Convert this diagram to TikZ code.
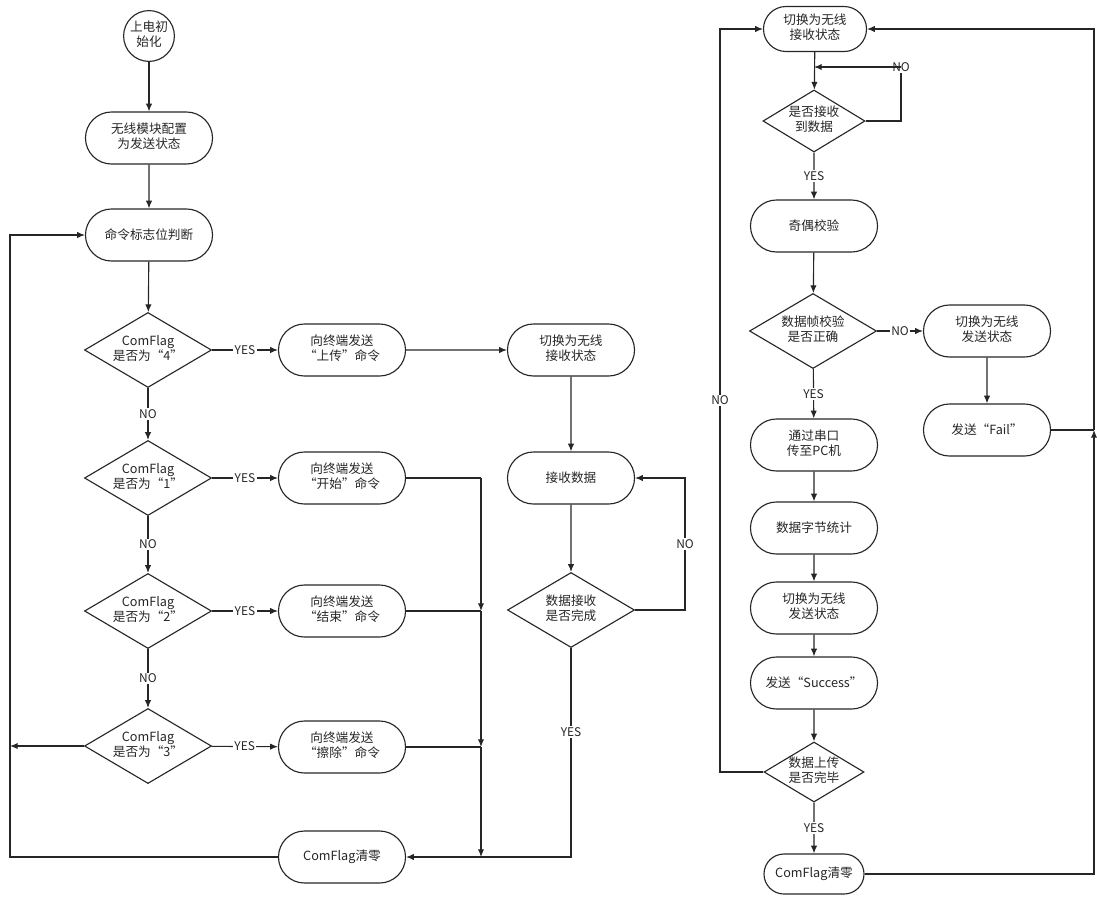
\documentclass[tikz,border=0pt]{standalone}
\usepackage{fontspec}
\setmainfont{Noto Sans CJK SC}
\usetikzlibrary{shapes.geometric,shapes.misc,arrows.meta}
\newcommand{\twol}[1]{\makebox[0pt]{\begin{tabular}{@{}c@{}}#1\end{tabular}}}

\begin{document}
\begin{tikzpicture}[x=0.025cm, y=-0.025cm, line width=0.8pt, color=black!85, >={Latex[length=5.5pt,width=4.5pt]},
	every node/.style={font=\fontsize{9}{11}\selectfont},
	proc/.style={rounded rectangle, draw, minimum width=3.175cm, minimum height=1.3cm, inner sep=0pt},
	dec/.style={diamond, draw, minimum width=3.175cm, minimum height=1.875cm, inner sep=0pt},
	lab/.style={fill=white, inner sep=1pt, font=\fontsize{8.5}{10}\selectfont}]
	\useasboundingbox (0,0) rectangle (1097,896);
	\node[circle, draw, minimum size=1.27cm, inner sep=0pt] (start) at (149,36) {\twol{上电初\\始化}};
	\node[proc] (cfg)   at (149,138) {\twol{无线模块配置\\为发送状态}};
	\node[proc] (judge) at (149,235) {命令标志位判断};
	\node[dec]  (d1)    at (148,350) {\twol{ComFlag\\是否为“4”}};
	\node[dec]  (d2)    at (148,478) {\twol{ComFlag\\是否为“1”}};
	\node[dec]  (d3)    at (148,611) {\twol{ComFlag\\是否为“2”}};
	\node[dec]  (d4)    at (148,746) {\twol{ComFlag\\是否为“3”}};
	\node[proc] (up)    at (342,350) {\twol{向终端发送\\“上传”命令}};
	\node[proc] (go)    at (342,478) {\twol{向终端发送\\“开始”命令}};
	\node[proc] (stop)  at (342,611) {\twol{向终端发送\\“结束”命令}};
	\node[proc] (erase) at (342,747) {\twol{向终端发送\\“擦除”命令}};
	\node[proc] (clrA)  at (342,857) {ComFlag清零};
	\node[proc] (rxA)   at (571,350) {\twol{切换为无线\\接收状态}};
	\node[proc] (recv)  at (571,478) {接收数据};
	\node[dec]  (done)  at (571,610) {\twol{数据接收\\是否完成}};

	\node[proc, minimum width=2.575cm, minimum height=1.125cm] (rxB) at (815,29) {\twol{切换为无线\\接收状态}};
	\node[dec, minimum width=2.55cm, minimum height=1.55cm] (got) at (814,121) {\twol{是否接收\\到数据}};
	\node[proc] (par)  at (814,226) {奇偶校验};
	\node[dec]  (chk)  at (813,331) {\twol{数据帧校验\\是否正确}};
	\node[proc] (txA)  at (987,331) {\twol{切换为无线\\发送状态}};
	\node[proc] (fail) at (987,430) {发送“Fail”};
	\node[proc] (pc)   at (814,445) {\twol{通过串口\\传至PC机}};
	\node[proc] (cnt)  at (814,528) {数据字节统计};
	\node[proc] (txB)  at (814,608) {\twol{切换为无线\\发送状态}};
	\node[proc] (succ) at (814,683) {发送“Success”};
	\node[dec, minimum width=2.5cm, minimum height=1.5cm] (fin) at (814,772) {\twol{数据上传\\是否完毕}};
	\node[proc, minimum width=2.5cm, minimum height=1.0cm] (clrB) at (814,874) {ComFlag清零};

	\coordinate (lA) at (10,857);
	\coordinate (nA) at (685,610);
	\coordinate (b1) at (481,478);
	\coordinate (b2) at (481,611);
	\coordinate (b3) at (481,747);
	\coordinate (b4) at (481,857);
	\coordinate (gA) at (901,67);
	\coordinate (rA) at (1094,430);
	\coordinate (lB) at (720,772);

	\draw[->] (start) -- (cfg);
	\draw[->] (cfg) -- (judge);
	\draw[->] (judge) -- (d1);
	\draw[->] (d1) -- node[lab] {YES} (up);
	\draw[->] (d2) -- node[lab] {YES} (go);
	\draw[->] (d3) -- node[lab] {YES} (stop);
	\draw[->] (d4) -- node[lab] {YES} (erase);
	\draw[->] (d1) -- node[lab] {NO} (d2);
	\draw[->] (d2) -- node[lab] {NO} (d3);
	\draw[->] (d3) -- node[lab] {NO} (d4);
	\draw[->] (d4.west) -- (d4.west -| lA);
	\draw[->] (clrA.west) -- (lA) |- (judge.west);
	\draw[->] (up) -- (rxA);
	\draw[->] (rxA) -- (recv);
	\draw[->] (recv) -- (done);
	\draw[->] (done.east) -- (nA) -- node[lab] {NO} (nA |- recv) -- (recv.east);
	\draw[->] (done.south) -- node[lab, pos=0.4] {YES} (done.south |- clrA) -- (clrA.east);
	\draw (go.east) -- (b1);
	\draw (stop.east) -- (b2);
	\draw (erase.east) -- (b3);
	\draw[->] (b1) -- (b2);
	\draw[->] (b2) -- (b3);
	\draw[->] (b3) -- (b4);

	\draw[->] (rxB) -- (got);
	\draw (got.east) -| (gA) node[lab] {NO};
	\draw[->] (gA) -- (gA -| got);
	\draw[->] (got) -- node[lab] {YES} (par);
	\draw[->] (par) -- (chk);
	\draw[->] (chk) -- node[lab] {NO} (txA);
	\draw[->] (txA) -- (fail);
	\draw[->] (chk) -- node[lab] {YES} (pc);
	\draw[->] (pc) -- (cnt);
	\draw[->] (cnt) -- (txB);
	\draw[->] (txB) -- (succ);
	\draw[->] (succ) -- (fin);
	\draw[->] (fin) -- node[lab] {YES} (clrB);
	\draw[->] (fin.west) -- (lB) -- node[lab] {NO} (lB |- rxB) -- (rxB.west);
	\draw (fail.east) -- (rA);
	\draw[->] (clrB.east) -| (rA);
	\draw[->] (rA) |- (rxB.east);
\end{tikzpicture}
\end{document}
